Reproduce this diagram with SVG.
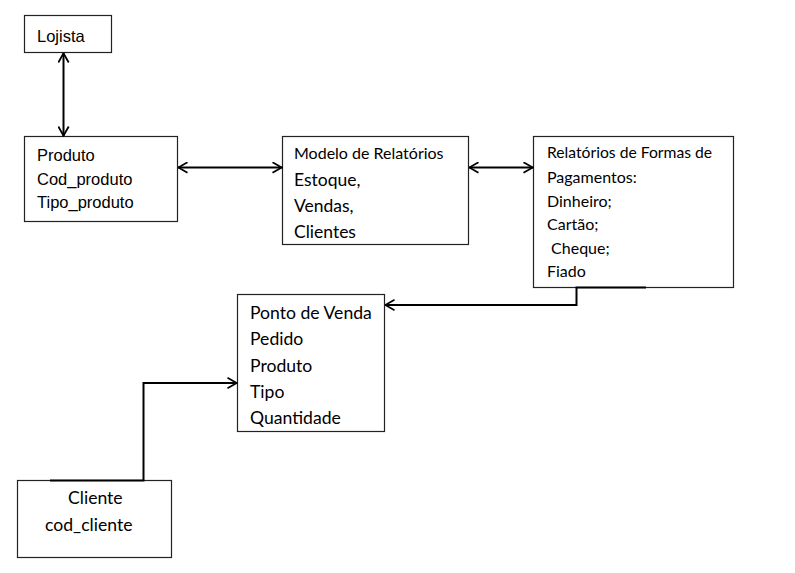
<svg xmlns="http://www.w3.org/2000/svg" width="795" height="573" viewBox="0 0 795 573">
<defs>
<style>
.box{fill:#fff;stroke:#222;stroke-width:1.2}
.ar{font-family:"Liberation Sans",Arial,sans-serif;font-size:16.5px;fill:#000}
.ca{font-family:Lato,"Open Sans",sans-serif;fill:#000}
.c{fill:none;stroke:#000;stroke-width:2}
</style>
<marker id="ah" viewBox="0 0 11 12" refX="10.5" refY="6" markerWidth="11" markerHeight="12" markerUnits="userSpaceOnUse" orient="auto-start-reverse">
<path d="M1,0.8 L10.2,6 L1,11.2" fill="none" stroke="#000" stroke-width="1.8"/>
</marker>
</defs>
<rect width="795" height="573" fill="#fff"/>
<g id="lojista">
<rect class="box" x="24.5" y="15.5" width="87" height="37"/>
<text class="ar" x="37" y="42">Lojista</text>
</g>
<g id="produto">
<rect class="box" x="24.5" y="136.5" width="153" height="85"/>
<text class="ar" x="37" y="161">Produto</text>
<text class="ar" x="37" y="185">Cod_produto</text>
<text class="ar" x="37" y="208">Tipo_produto</text>
</g>
<g id="modelo">
<rect class="box" x="282.5" y="136.5" width="186" height="108"/>
<text class="ca" font-size="16" x="294" y="159">Modelo de Relatórios</text>
<text class="ca" font-size="17.5" x="294" y="186">Estoque,</text>
<text class="ca" font-size="17.5" x="294" y="212">Vendas,</text>
<text class="ca" font-size="17.5" x="294" y="238">Clientes</text>
</g>
<g id="relatorios">
<rect class="box" x="533.5" y="136.5" width="200" height="151"/>
<text class="ca" font-size="15.7" x="547" y="158">Relatórios de Formas de</text>
<text class="ca" font-size="16" x="547" y="183">Pagamentos:</text>
<text class="ca" font-size="16" x="547" y="207">Dinheiro;</text>
<text class="ca" font-size="16" x="547" y="230">Cartão;</text>
<text class="ca" font-size="16" x="547" y="254" xml:space="preserve"> Cheque;</text>
<text class="ca" font-size="16" x="547" y="277">Fiado</text>
</g>
<g id="ponto">
<rect class="box" x="237.5" y="294.5" width="147" height="137"/>
<text class="ca" font-size="17.6" x="250" y="319">Ponto de Venda</text>
<text class="ca" font-size="17.6" x="250" y="345">Pedido</text>
<text class="ca" font-size="17.6" x="250" y="372">Produto</text>
<text class="ca" font-size="17.6" x="250" y="398">Tipo</text>
<text class="ca" font-size="17.6" x="250" y="424">Quantidade</text>
</g>
<g id="cliente">
<rect class="box" x="17.5" y="480.5" width="154" height="77"/>
<text class="ca" font-size="17.6" x="68" y="504">Cliente</text>
<text class="ca" font-size="17.6" x="45" y="531">cod_cliente</text>
</g>
<g id="connectors">
<line class="c" x1="63.5" y1="53" x2="63.5" y2="136" marker-start="url(#ah)" marker-end="url(#ah)"/>
<line class="c" x1="178" y1="167.5" x2="282" y2="167.5" marker-start="url(#ah)" marker-end="url(#ah)"/>
<line class="c" x1="469" y1="167.5" x2="533" y2="167.5" marker-start="url(#ah)" marker-end="url(#ah)"/>
<polyline class="c" points="646,287.5 576.5,287.5 576.5,305 385,305" marker-end="url(#ah)"/>
<polyline class="c" points="50,480.5 143.5,480.5 143.5,383 237,383" marker-end="url(#ah)"/>
</g>
</svg>
